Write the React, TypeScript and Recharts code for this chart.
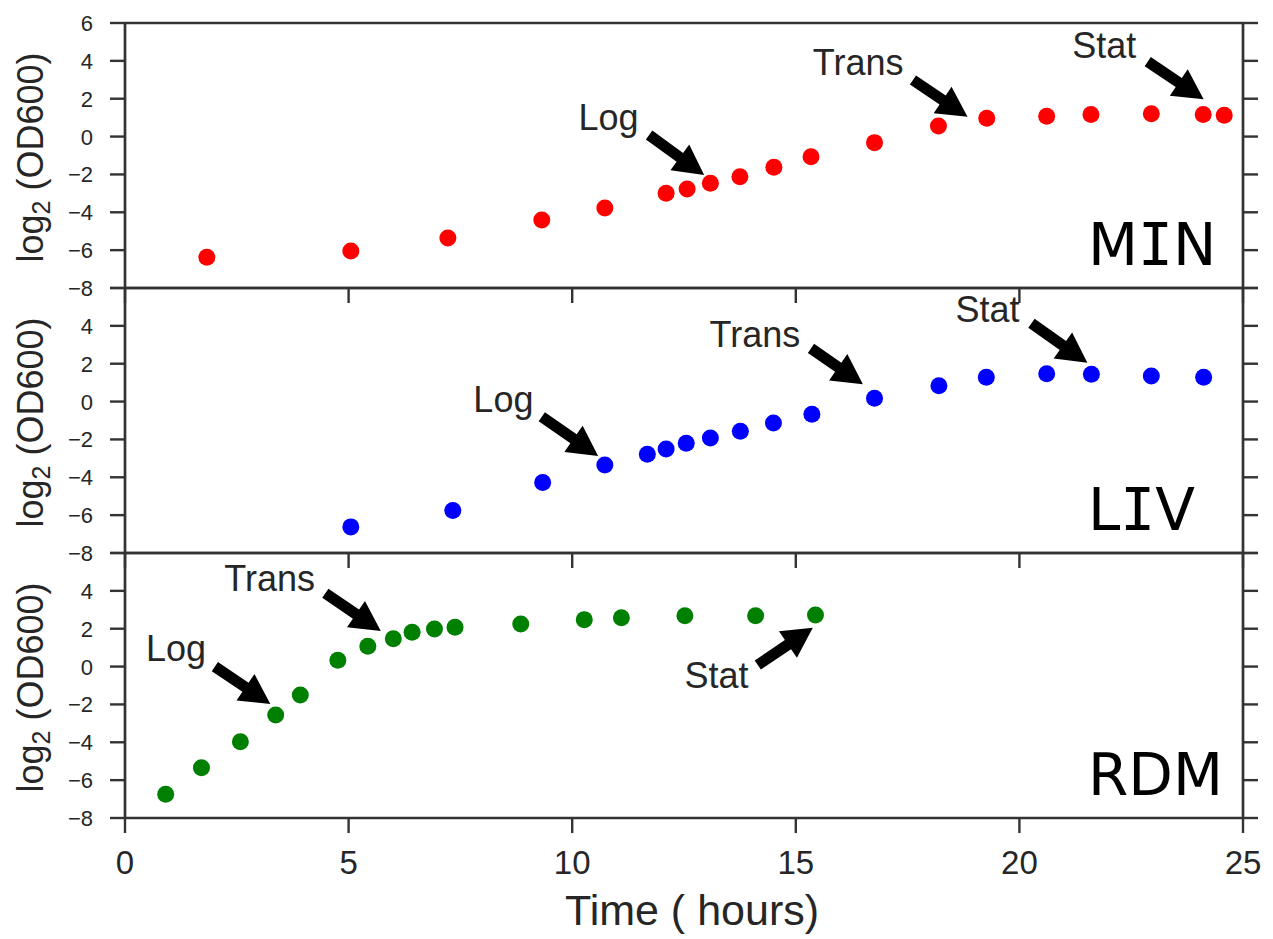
import React from 'react';
import { ScatterChart, Scatter, XAxis, YAxis, ReferenceLine, ReferenceDot } from 'recharts';

// ---- data ----
const xTicks = [0, 5, 10, 15, 20, 25];
const yTicks = [-8, -6, -4, -2, 0, 2, 4, 6];

const minTime = [1.83, 5.05, 7.22, 9.32, 10.73, 12.10, 12.57, 13.09, 13.75, 14.51, 15.34, 16.76, 18.19, 19.27, 20.61, 21.60, 22.95, 24.11, 24.58];
const minOD = [-6.38, -6.04, -5.36, -4.41, -3.77, -3.00, -2.77, -2.47, -2.12, -1.62, -1.06, -0.32, 0.56, 0.97, 1.07, 1.16, 1.20, 1.16, 1.13];

const livTime = [5.05, 7.33, 9.34, 10.73, 11.68, 12.10, 12.55, 13.09, 13.76, 14.50, 15.36, 16.76, 18.20, 19.26, 20.61, 21.61, 22.95, 24.12];
const livOD = [-6.62, -5.76, -4.28, -3.35, -2.78, -2.50, -2.20, -1.92, -1.57, -1.13, -0.67, 0.17, 0.84, 1.28, 1.47, 1.44, 1.35, 1.28];

const rdmTime = [0.91, 1.71, 2.58, 3.37, 3.92, 4.76, 5.43, 6.00, 6.42, 6.92, 7.38, 8.85, 10.27, 11.10, 12.52, 14.10, 15.44];
const rdmOD = [-6.75, -5.34, -3.97, -2.56, -1.50, 0.33, 1.07, 1.47, 1.81, 1.99, 2.08, 2.25, 2.48, 2.58, 2.69, 2.69, 2.73];

const panelNames = ['MIN', 'LIV', 'RDM'];

// annotations (data coordinates): label text position, arrow tail, arrow tip
const minNotes = [
  { label: 'Log', textX: 10.14, textY: 0.35, tailX: 11.72, tailY: 0.08, tipX: 12.95, tipY: -2.03 },
  { label: 'Trans', textX: 15.38, textY: 3.25, tailX: 17.62, tailY: 2.99, tipX: 18.84, tipY: 1.05 },
  { label: 'Stat', textX: 21.18, textY: 4.15, tailX: 22.87, tailY: 3.96, tipX: 24.12, tipY: 1.97 },
];
const livNotes = [
  { label: 'Log', textX: 7.79, textY: -0.53, tailX: 9.32, tailY: -0.8, tipX: 10.58, tipY: -2.87 },
  { label: 'Trans', textX: 13.07, textY: 2.9, tailX: 15.34, tailY: 2.81, tipX: 16.5, tipY: 0.91 },
  { label: 'Stat', textX: 18.57, textY: 4.22, tailX: 20.27, tailY: 4.14, tipX: 21.52, tipY: 2.05 },
];
const rdmNotes = [
  { label: 'Log', textX: 0.47, textY: 0.3, tailX: 2.01, tailY: 0.0, tipX: 3.25, tipY: -1.98 },
  { label: 'Trans', textX: 2.22, textY: 4.01, tailX: 4.48, tailY: 3.87, tipX: 5.72, tipY: 1.88 },
  { label: 'Stat', textX: 12.51, textY: -1.15, tailX: 14.15, tailY: 0.08, tipX: 15.38, tipY: 2.05 },
];

const toPoints = (xs: number[], ys: number[]) => xs.map((x, i) => ({ x, y: ys[i] }));

// ---- styles ----
const W = 1273;
const H = 939;
const AXIS = '#333333';
const TEXT = '#262626';
const SANS = '"Liberation Sans", Arial, Helvetica, sans-serif';
const DJ = '"DejaVu Sans", sans-serif';
const MONO = '"DejaVu Sans Mono", monospace';
const TOP_H = 23;
const PLOT_H = 265;
const TICK = 15;

function ArrowShape(props: any) {
  const { x1, y1, x2, y2 } = props;
  const dx = x2 - x1;
  const dy = y2 - y1;
  const len = Math.hypot(dx, dy) || 1;
  const ux = dx / len;
  const uy = dy / len;
  const nx = -uy;
  const ny = ux;
  const w = 5.5;
  const hw = 16;
  const hl = 30;
  const bx = x2 - ux * hl;
  const by = y2 - uy * hl;
  const pts = [
    [x1 + nx * w, y1 + ny * w],
    [bx + nx * w, by + ny * w],
    [bx + nx * hw, by + ny * hw],
    [x2, y2],
    [bx - nx * hw, by - ny * hw],
    [bx - nx * w, by - ny * w],
    [x1 - nx * w, y1 - ny * w],
  ];
  return <polygon points={pts.map((p) => p.join(',')).join(' ')} fill="#000000" stroke="none" />;
}

const minus = (v: number) => String(v).replace('-', '\u2212');
const NoTick = () => <g />;

const makeYTick = (hideTop: boolean) => (p: any) => {
  const v = p.payload.value;
  if (hideTop && v === 6) return <g />;
  return (
    <text x={p.x} y={p.y} dy={8} textAnchor="end" fill={TEXT} fontSize={22} fontFamily={SANS}>
      {minus(v)}
    </text>
  );
};

const XTick = (p: any) => (
  <text x={p.x} y={p.y} dy={24} textAnchor="middle" fill={TEXT} fontSize={33} fontFamily={SANS}>
    {minus(p.payload.value)}
  </text>
);

function Panel(props: any) {
  const { top, bottomH, data, color, notes, last, hideTop } = props;
  const height = TOP_H + PLOT_H + bottomH;
  const axisLine = { stroke: AXIS, strokeWidth: 2.7 };
  const tickLine = { stroke: AXIS, strokeWidth: 2.4 };
  return (
    <div style={{ position: 'absolute', left: 0, top: top - TOP_H, width: W, height }}>
      <ScatterChart width={W} height={height} margin={{ top: 0, right: 0, bottom: 0, left: 0 }}>
        <XAxis
          xAxisId={0}
          dataKey="x"
          type="number"
          domain={[0, 25]}
          ticks={xTicks}
          orientation="bottom"
          height={bottomH}
          tickSize={TICK}
          tickMargin={17}
          axisLine={axisLine}
          tickLine={tickLine}
          tick={last ? XTick : NoTick}
          allowDataOverflow
          interval={0}
        />
        <XAxis
          xAxisId="top"
          type="number"
          domain={[0, 25]}
          ticks={xTicks}
          orientation="top"
          height={TOP_H}
          tickSize={TICK}
          axisLine={axisLine}
          tickLine={tickLine}
          tick={NoTick}
          allowDataOverflow
          interval={0}
        />
        <YAxis
          yAxisId={0}
          dataKey="y"
          type="number"
          domain={[-8, 6]}
          ticks={yTicks}
          width={125}
          tickSize={TICK}
          tickMargin={17}
          axisLine={axisLine}
          tickLine={tickLine}
          tick={makeYTick(hideTop)}
          allowDataOverflow
          interval={0}
        />
        <YAxis
          yAxisId="right"
          orientation="right"
          type="number"
          domain={[-8, 6]}
          ticks={yTicks}
          width={30}
          tickSize={TICK}
          axisLine={axisLine}
          tickLine={tickLine}
          tick={NoTick}
          allowDataOverflow
          interval={0}
        />
        <Scatter
          data={data}
          isAnimationActive={false}
          shape={(p: any) => <circle cx={p.cx} cy={p.cy} r={8.5} fill={color} />}
        />
        {notes.map((n: any) => (
          <ReferenceLine
            key={'a' + n.label}
            segment={[{ x: n.tailX, y: n.tailY }, { x: n.tipX, y: n.tipY }]}
            ifOverflow="visible"
            shape={ArrowShape}
          />
        ))}
        {notes.map((n: any) => (
          <ReferenceDot
            key={'t' + n.label}
            x={n.textX}
            y={n.textY}
            ifOverflow="visible"
            shape={(p: any) => (
              <text x={p.cx} y={p.cy} fill={TEXT} fontSize={36} fontFamily={SANS} textAnchor="start">
                {n.label}
              </text>
            )}
          />
        ))}
      </ScatterChart>
    </div>
  );
}

function PanelName({ name, x, y }: { name: string; x: number; y: number }) {
  return (
    <text x={x} y={y} fill="#000000" fontSize={58} fontFamily={DJ} style={{ whiteSpace: 'pre' }}>
      {name.split('').map((c, i) => (
        <tspan key={i} fontFamily={c === 'I' ? MONO : DJ}>
          {c}
        </tspan>
      ))}
    </text>
  );
}

export default function App() {
  const tops = [23, 288, 553];
  const panels = [
    { data: toPoints(minTime, minOD), color: '#ff0000', notes: minNotes },
    { data: toPoints(livTime, livOD), color: '#0000ff', notes: livNotes },
    { data: toPoints(rdmTime, rdmOD), color: '#008000', notes: rdmNotes },
  ];
  return (
    <div style={{ position: 'absolute', left: 0, top: 0, width: W, height: H, background: '#ffffff' }}>
      {panels.map((p, i) => (
        <Panel
          key={i}
          top={tops[i]}
          bottomH={i === 2 ? H - (tops[2] + PLOT_H) : 16}
          data={p.data}
          color={p.color}
          notes={p.notes}
          last={i === 2}
          hideTop={i > 0}
        />
      ))}
      <svg
        width={W}
        height={H}
        style={{ position: 'absolute', left: 0, top: 0, pointerEvents: 'none' }}
      >
        {tops.map((t, i) => {
          const cy = t + PLOT_H / 2 + 2;
          return (
            <text
              key={'yl' + i}
              x={43}
              y={cy}
              transform={`rotate(-90, 43, ${cy})`}
              textAnchor="middle"
              fill={TEXT}
              fontSize={36}
              fontFamily={SANS}
              style={{ whiteSpace: 'pre' }}
            >
              <tspan>log</tspan>
              <tspan fontSize={25} dy={7}>2</tspan>
              <tspan dy={-7}>{' (OD600)'}</tspan>
            </text>
          );
        })}
        {tops.map((t, i) => (
          <PanelName key={'pn' + i} name={panelNames[i]} x={1088} y={t + PLOT_H - 23} />
        ))}
        <text x={692} y={925} textAnchor="middle" fill={TEXT} fontSize={43} fontFamily={SANS} style={{ whiteSpace: 'pre' }}>
          {'Time ( hours)'}
        </text>
      </svg>
    </div>
  );
}
